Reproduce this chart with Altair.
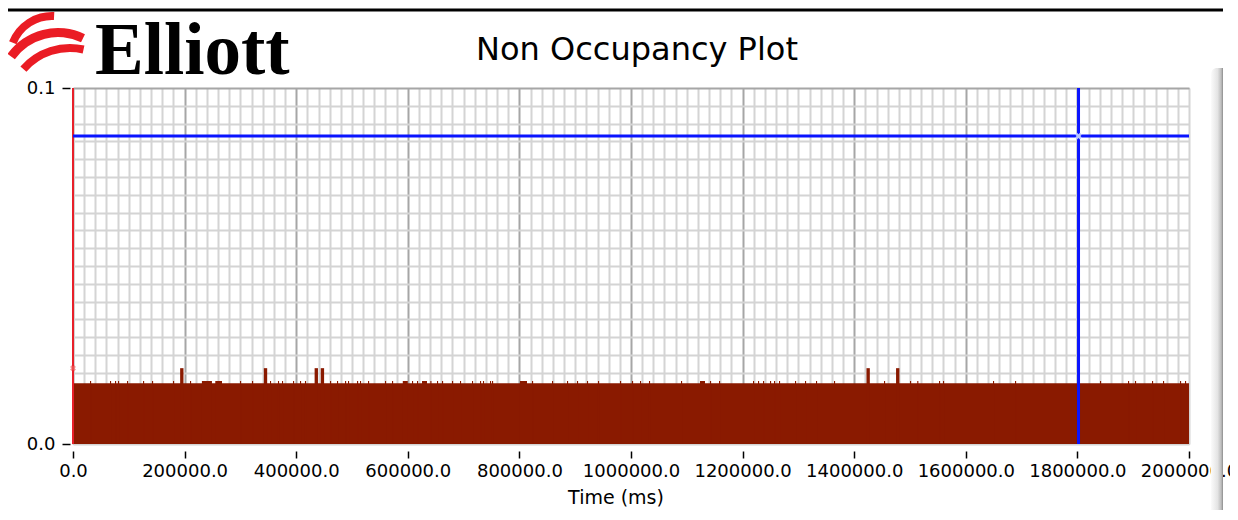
import altair as alt
import pandas as pd

# ---------------- data ----------------
x_domain = [0, 2000000]
y_domain = [0.0, 0.1]
base_level = 0.01705           # flat occupancy level across the whole record
bump_level = 0.0177            # small one-sample bumps
spike_level = 0.0213           # tall spikes

spike_start = [192000, 342000, 433000, 444000, 1422000, 1475000]
spike_end = [198000, 348000, 439000, 450000, 1428000, 1481000]

wide_bump_start = [231000, 255000, 591000, 625400, 801000, 1123600]
wide_bump_end = [249000, 267000, 600000, 634400, 813600, 1132600]

bump_time = [30500, 66300, 75300, 80600, 96800, 125500, 141600, 179200, 209700,
             299300, 320800, 353000, 367300, 374500, 394300, 406800, 415700,
             460600, 473100, 487500, 492800, 509000, 514300, 528700, 559100,
             571700, 607500, 616500, 640400, 652300, 661300, 679200, 693500,
             715000, 729400, 734700, 747300, 750900, 822600, 858400, 885300,
             903200, 921100, 940800, 980300, 1001800, 1016100, 1032200, 1089600,
             1141600, 1157700, 1218600, 1227600, 1236600, 1249100, 1256300,
             1265200, 1293900, 1311800, 1331500, 1363800, 1453400, 1500000,
             1513000, 1552000, 1559100, 1648700, 1688200, 1840500, 1890700,
             1903200, 1933700, 1953400, 1983900, 1992800]
bump_width = 2000

cursor_x = [1802000]
cursor_y = [0.0865]
left_marker_value = [0.0213]

title_text = "Non Occupancy Plot"
x_title = "Time (ms)"
logo_text = "Elliott"

# ---------------- tables ----------------
starts = [x_domain[0]] + wide_bump_start + bump_time + spike_start
ends = ([x_domain[1]] + wide_bump_end + [t + bump_width for t in bump_time]
        + spike_end)
vals = ([base_level] + [bump_level] * len(wide_bump_start)
        + [bump_level] * len(bump_time) + [spike_level] * len(spike_start))
bars = pd.DataFrame({"start": starts, "end": ends, "value": vals})

W, H = 1116, 356
FONT = "DejaVu Sans"
DARK_RED = "#8a1a00"
BLUE = "#0a14ff"

xscale = alt.Scale(domain=x_domain, nice=False, zero=False)
yscale = alt.Scale(domain=y_domain, nice=False)

x_axis = alt.Axis(
    tickCount=100, labelOverlap=False, labelFlush=False, domain=False,
    labelExpr="datum.value % 200000 === 0 ? format(datum.value, '.1f') : ''",
    offset=7, tickSize=7, tickColor="black", tickWidth=1.5,
    tickOpacity={"condition": {"test": "datum.value % 200000 === 0", "value": 1}, "value": 0},
    grid=True, gridWidth=2,
    gridColor={"condition": {"test": "datum.value % 200000 === 0 && datum.value < 2000000",
                             "value": "#a6a6a6"}, "value": "#d4d4d4"},
    labelFont=FONT, labelFontSize=18, labelColor="black", labelPadding=4,
    title=None,
)
y_axis = alt.Axis(
    tickCount=20, labelOverlap=False, labelFlush=False, domain=False,
    labelExpr="(abs(datum.value) < 1e-9 || abs(datum.value - 0.1) < 1e-9) ? format(datum.value, '.1f') : ''",
    offset=3, tickSize=8, tickColor="black", tickWidth=1.5,
    tickOpacity={"condition": {"test": "abs(datum.value) < 1e-9 || abs(datum.value - 0.1) < 1e-9",
                               "value": 1}, "value": 0},
    grid=True, gridWidth=2,
    gridColor={"condition": {"test": "abs(datum.value - 0.1) < 1e-9", "value": "#a6a6a6"},
               "value": "#d4d4d4"},
    labelFont=FONT, labelFontSize=18, labelColor="black", labelPadding=7,
    title=None,
)

area = alt.Chart(bars).mark_rect(color=DARK_RED, strokeWidth=0).encode(
    x=alt.X("start:Q", scale=xscale, axis=x_axis),
    x2="end:Q",
    y=alt.Y("value:Q", scale=yscale, axis=y_axis),
    y2=alt.datum(0),
)

cur = pd.DataFrame({"cx": cursor_x, "cy": cursor_y})
vline = alt.Chart(cur).mark_rule(color=BLUE, strokeWidth=3).encode(
    x=alt.X("cx:Q", scale=xscale))
hline = alt.Chart(cur).mark_rule(color=BLUE, strokeWidth=3).encode(
    y=alt.Y("cy:Q", scale=yscale))
cross = alt.Chart(cur).mark_point(shape="cross", angle=45, size=45, filled=True,
                                  color="#b8c4ff", opacity=1).encode(
    x=alt.X("cx:Q", scale=xscale), y=alt.Y("cy:Q", scale=yscale))

left = pd.DataFrame({"lx": [x_domain[0]], "ly": left_marker_value})
red_line = alt.Chart(left).mark_rule(color="#e8202a", strokeWidth=2).encode(
    x=alt.X("lx:Q", scale=xscale))
red_mark = alt.Chart(left).mark_point(shape="cross", angle=45, size=35, filled=True,
                                      color="#f06060").encode(
    x=alt.X("lx:Q", scale=xscale), y=alt.Y("ly:Q", scale=yscale))

# decorations
one = pd.DataFrame({"k": [0]})
scroll = alt.Chart(one).mark_rect(
    color=alt.Gradient(gradient="linear", x1=0, x2=1, y1=0, y2=0,
                       stops=[alt.GradientStop(offset=0, color="#fbfbfb"),
                              alt.GradientStop(offset=0.55, color="#e4e4e4"),
                              alt.GradientStop(offset=0.85, color="#bdbdbd"),
                              alt.GradientStop(offset=1, color="#8c8c8c")]),
    cornerRadiusTopLeft=6,
).encode(x=alt.value(1138), x2=alt.value(1150), y=alt.value(-20), y2=alt.value(424))

top_line = alt.Chart(one).mark_rule(color="black", strokeWidth=3).encode(
    x=alt.value(-66), x2=alt.value(1150), y=alt.value(-78))

title = alt.Chart(pd.DataFrame({"t": [title_text]})).mark_text(
    font=FONT, fontSize=32, color="black", align="center", baseline="alphabetic"
).encode(text="t:N", x=alt.value(564), y=alt.value(-28))

xtitle = alt.Chart(pd.DataFrame({"t": [x_title]})).mark_text(
    font=FONT, fontSize=19, color="black", align="center", baseline="alphabetic"
).encode(text="t:N", x=alt.value(543), y=alt.value(416))

logo = alt.Chart(pd.DataFrame({"t": [logo_text]})).mark_text(
    font="Liberation Serif", fontSize=73, fontWeight="bold", color="black",
    align="left", baseline="alphabetic"
).encode(text="t:N", x=alt.value(22), y=alt.value(-14))

swirl_df = pd.DataFrame({"cx": [-21, -15, -3], "cy": [-30, 2, 22],
                         "r": [46, 62, 66], "r2": [38, 53, 58],
                         "t1": [-1.2, -0.95, -0.85], "t2": [0.05, 0.45, 0.22]})
swirl = alt.Chart(swirl_df).mark_arc(color="#ea1c24").encode(
    x=alt.X("cx:Q", scale=None), y=alt.Y("cy:Q", scale=None),
    theta=alt.Theta("t1:Q", scale=None), theta2="t2:Q",
    radius=alt.Radius("r:Q", scale=None), radius2="r2:Q",
)

chart = alt.layer(
    area, red_line, hline, vline, cross, red_mark,
    scroll, top_line, title, xtitle, logo, swirl,
).properties(
    width=W, height=H,
    padding={"left": 65, "top": 80, "right": 41, "bottom": 66},
    autosize=alt.AutoSizeParams(type="none"),
    background="white",
).configure_view(stroke="#d4d4d4", strokeWidth=1)

chart.save("out.html", embed_options={"renderer": "svg", "actions": False})
